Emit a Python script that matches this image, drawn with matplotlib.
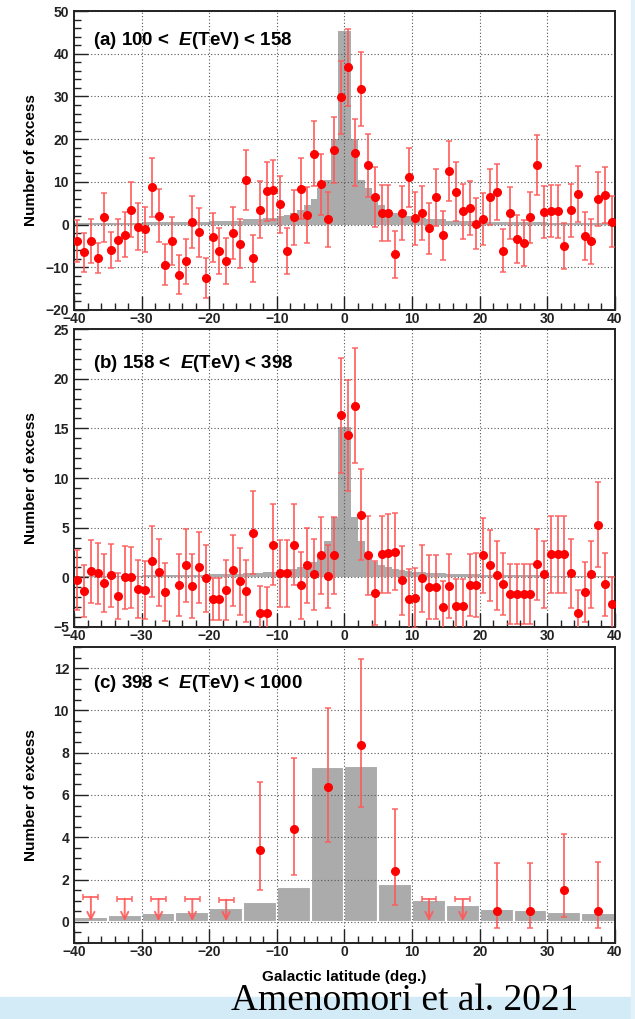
import matplotlib
matplotlib.use("Agg")
import matplotlib.pyplot as plt
import numpy as np
from matplotlib.patches import Rectangle
from matplotlib.ticker import MultipleLocator

plt.rcParams["font.family"] = ["Liberation Sans", "DejaVu Sans"]
plt.rcParams["font.weight"] = "bold"
plt.rcParams["axes.labelweight"] = "bold"
plt.rcParams["mathtext.fontset"] = "custom"
plt.rcParams["mathtext.rm"] = "Liberation Sans:bold"
plt.rcParams["mathtext.it"] = "Liberation Sans:bold:italic"

# bin centres (1 deg bins) for panels (a) and (b)
lat_1deg = np.arange(-39.5, 40.0, 1.0)

# panel (a): 100 < E < 158 TeV
a_excess = [-3.8, -6.5, -3.8, -7.9, 1.7, -5.9, -3.6, -2.4, 3.5, -0.5,
            -1.1, 8.7, 2.1, -9.4, -3.9, -11.7, -8.6, 0.6, -1.8, -12.6,
            -3.0, -6.1, -8.5, -2.0, -4.5, 10.4, -7.9, 3.5, 7.8, 8.0,
            4.7, -6.1, 1.7, 8.4, 2.3, 16.6, 9.4, 1.2, 17.5, 29.8,
            36.8, 16.8, 31.8, 13.9, 6.5, 2.7, 2.7, -7.0, 2.7, 11.1,
            1.5, 2.7, -0.9, 6.4, -2.5, 12.6, 7.7, 3.1, 3.9, 0.2,
            1.4, 6.4, 7.6, -6.1, 2.8, -3.3, -4.3, 1.7, 14.0, 2.9,
            3.1, 3.1, -5.0, 3.3, 7.1, -2.7, -3.9, 5.9, 6.9, 0.7]
a_err = [4.9, 4.6, 5.1, 3.5, 5.7, 4.2, 5.0, 5.3, 6.4, 5.5,
         5.3, 6.9, 6.3, 4.8, 5.6, 4.5, 5.3, 6.2, 5.7, 4.7,
         5.8, 5.4, 5.4, 6.0, 5.7, 7.0, 5.5, 6.6, 6.9, 7.0,
         6.7, 5.4, 6.5, 7.2, 6.6, 7.6, 7.2, 6.5, 7.8, 8.5,
         9.0, 7.8, 8.7, 7.4, 7.0, 6.5, 6.5, 5.5, 6.3, 6.9,
         6.2, 6.3, 5.9, 6.7, 5.7, 7.0, 6.9, 6.4, 6.4, 6.0,
         6.1, 6.5, 6.5, 5.1, 6.1, 5.6, 5.4, 6.0, 7.0, 6.1,
         6.1, 6.2, 5.3, 6.3, 6.5, 5.6, 5.3, 6.3, 6.5, 6.0]

# panel (b): 158 < E < 398 TeV (no point in the -25.5 bin)
b_excess = [-0.27, -1.4, 0.6, 0.4, -0.6, 0.2, -1.9, 0.0, 0.0, -1.2,
            -1.3, 1.6, 0.5, -1.5, np.nan, -0.8, 1.2, -0.9, 1.0, -0.1,
            -2.2, -2.2, -1.3, 0.7, -0.4, -1.4, 4.5, -3.6, -3.6, 3.3,
            0.4, 0.4, 3.3, -0.8, 1.2, 0.3, 2.2, 0.1, 2.2, 16.3,
            14.3, 17.3, 6.3, 2.2, -1.6, 2.3, 2.4, 2.6, -0.3, -2.2,
            -2.1, -0.1, -1.0, -1.0, -3.0, -0.9, -2.9, -2.9, -0.8, -0.8,
            2.2, 1.2, 0.2, -0.7, -1.7, -1.7, -1.7, -1.7, 1.3, 0.3,
            2.3, 2.3, 2.3, 0.4, -3.6, -1.5, 0.3, 5.3, -0.7, -2.7]
b_err = [3.0, 2.6, 3.2, 3.1, 2.9, 3.2, 2.3, 3.2, 3.1, 2.9,
         2.9, 3.6, 3.4, 2.9, np.nan, 3.1, 3.7, 3.2, 3.6, 3.4,
         2.1, 2.1, 3.0, 3.6, 3.4, 3.1, 4.2, 2.7, 2.6, 4.1,
         3.4, 3.4, 4.1, 3.4, 3.8, 3.6, 3.9, 3.2, 3.9, 5.8,
         5.6, 5.8, 4.6, 4.0, 3.2, 3.9, 4.0, 3.9, 3.5, 3.0,
         3.0, 3.4, 3.2, 3.2, 2.6, 3.2, 2.7, 2.7, 3.1, 3.2,
         3.8, 3.6, 3.5, 3.1, 3.0, 3.0, 3.0, 3.0, 3.6, 3.4,
         3.9, 3.9, 3.9, 3.5, 2.3, 3.0, 3.4, 4.3, 3.2, 2.7]

# expected (model) histograms for (a) and (b), variable-width bins
model_edges = [-40, -30, -20, -15, -12, -10, -9, -8, -7, -6, -5, -4, -3, -2, -1, 0,
               1, 2, 3, 4, 5, 6, 7, 8, 9, 10, 12, 15, 20, 30, 40]
a_model = [0.3, 0.5, 0.8, 1.2, 1.6, 2.0, 2.3, 2.8, 3.5, 4.5, 6.0, 8.5, 10.5, 20.0, 45.4,
           45.4, 20.0, 10.5, 8.5, 6.0, 4.5, 3.5, 2.8, 2.3, 2.0, 1.6, 1.2, 0.8, 0.5, 0.3]
b_model = [0.15, 0.2, 0.3, 0.45, 0.55, 0.65, 0.75, 0.85, 1.0, 1.2, 1.5, 2.2, 3.7, 6.1, 15.1,
           15.1, 6.1, 3.7, 2.2, 1.5, 1.2, 1.0, 0.85, 0.75, 0.65, 0.55, 0.45, 0.3, 0.2, 0.15]

# panel (c): 398 < E < 1000 TeV, 5 deg bins
c_model_lat = [-37.5, -32.5, -27.5, -22.5, -17.5, -12.5, -7.5, -2.5,
               2.5, 7.5, 12.5, 17.5, 22.5, 27.5, 32.5, 37.5]
c_model = [0.23, 0.3, 0.4, 0.47, 0.66, 0.95, 1.67, 7.31,
           7.39, 1.77, 1.05, 0.78, 0.61, 0.55, 0.45, 0.42]
c_lat = [-12.5, -7.5, -2.5, 2.5, 7.5, 22.5, 27.5, 32.5, 37.5]
c_excess = [3.39, 4.38, 6.36, 8.36, 2.42, 0.5, 0.5, 1.5, 0.52]
c_err_lo = [1.9, 2.16, 2.6, 2.92, 1.64, 0.81, 0.81, 1.27, 0.82]
c_err_hi = [3.2, 3.37, 3.75, 4.08, 2.94, 2.28, 2.28, 2.66, 2.29]
c_ul_lat = [-37.5, -32.5, -27.5, -22.5, -17.5, 12.5, 17.5]
c_ul = [1.17, 1.1, 1.09, 1.06, 1.05, 1.06, 1.06]

GRAY = "#ababab"
RED = "#ff0000"
ERR_RED = "#ff5a5a"


def style_axes(ax, ylim, ymajor, yminor):
    ax.set_xlim(-40, 40)
    ax.set_ylim(*ylim)
    ax.xaxis.set_major_locator(MultipleLocator(10))
    ax.xaxis.set_minor_locator(MultipleLocator(2))
    ax.yaxis.set_major_locator(MultipleLocator(ymajor))
    ax.yaxis.set_minor_locator(MultipleLocator(yminor))
    ax.tick_params(which="both", direction="in", top=False, right=False,
                   labelsize=10, width=1.0, colors="#222222")
    ax.tick_params(which="major", length=10)
    ax.tick_params(which="minor", length=5)
    ax.tick_params(axis="x", pad=1.5)
    ax.grid(True, which="major", ls=(0, (1, 2)), color="#555555", lw=0.8)
    for s in ax.spines.values():
        s.set_linewidth(1.4)
        s.set_color("#222222")
    ax.set_ylabel("Number of excess", fontsize=11)
    ax.yaxis.set_label_coords(-0.066, 0.5)


def draw_points(ax, x, y, yerr):
    ax.errorbar(x, y, yerr=yerr, fmt="none", ecolor=ERR_RED, elinewidth=1.4,
                capsize=2, capthick=1.2, alpha=0.85, zorder=3)
    ax.plot(x, y, "o", color=RED, ms=5.5, zorder=4)


fig = plt.figure(figsize=(6.35, 10.19), dpi=100)

ax_a = fig.add_axes([0.1165, 0.6958, 0.852, 0.2934])
ax_b = fig.add_axes([0.1165, 0.3847, 0.852, 0.2924])
ax_c = fig.add_axes([0.1165, 0.0746, 0.852, 0.2905])

# (a)
ax_a.stairs(a_model, model_edges, fill=True, color=GRAY, zorder=1)
draw_points(ax_a, lat_1deg, a_excess, a_err)
style_axes(ax_a, (-20, 50), 10, 2)
ax_a.text(0.035, 0.903, r"(a) 100 <  $E$(TeV) < 158", transform=ax_a.transAxes,
          fontsize=13.5, va="center", ha="left")

# (b)
ax_b.stairs(b_model, model_edges, fill=True, color=GRAY, zorder=1)
draw_points(ax_b, lat_1deg, b_excess, b_err)
style_axes(ax_b, (-5, 25), 5, 1)
ax_b.text(0.035, 0.886, r"(b) 158 <  $E$(TeV) < 398", transform=ax_b.transAxes,
          fontsize=13.5, va="center", ha="left")

# (c)
ax_c.bar(c_model_lat, c_model, width=5, color=GRAY, edgecolor="white",
         linewidth=1.5, zorder=1)
ax_c.errorbar(c_lat, c_excess, yerr=[c_err_lo, c_err_hi], fmt="none",
              ecolor=ERR_RED, elinewidth=1.4, capsize=2, capthick=1.2,
              alpha=0.85, zorder=3)
ax_c.plot(c_lat, c_excess, "o", color=RED, ms=5.5, zorder=4)
ax_c.errorbar(c_ul_lat, c_ul, xerr=1.1, fmt="none", ecolor=ERR_RED,
              elinewidth=1.4, capsize=2.5, capthick=1.2, alpha=0.85, zorder=3)
for xl, ul in zip(c_ul_lat, c_ul):
    ax_c.annotate("", xy=(xl, 0.03), xytext=(xl, ul),
                  arrowprops=dict(arrowstyle="->", color=ERR_RED, lw=1.4,
                                  mutation_scale=13, shrinkA=0, shrinkB=0,
                                  alpha=0.9), zorder=3)
style_axes(ax_c, (-1, 13), 2, 0.5)
ax_c.text(0.035, 0.878, r"(c) 398 <  $E$(TeV) < 1000", transform=ax_c.transAxes,
          fontsize=13.5, va="center", ha="left")
ax_c.set_xlabel("Galactic latitude (deg.)", fontsize=11)
ax_c.xaxis.set_label_coords(0.5, -0.09)

# light blue strip along the bottom and the right edge
fig.patches.append(Rectangle((0, 0), 1, 22 / 1019, transform=fig.transFigure,
                             color="#d3ebf7", zorder=0))
fig.patches.append(Rectangle((631 / 635, 0), 4 / 635, 1, transform=fig.transFigure,
                             color="#e3f1f8", zorder=0))

fig.text(231 / 635, 9 / 1019, "Amenomori et al. 2021", fontsize=27,
         family="Liberation Serif", weight="normal", ha="left", va="baseline")

fig.savefig("out.png", dpi=100)
